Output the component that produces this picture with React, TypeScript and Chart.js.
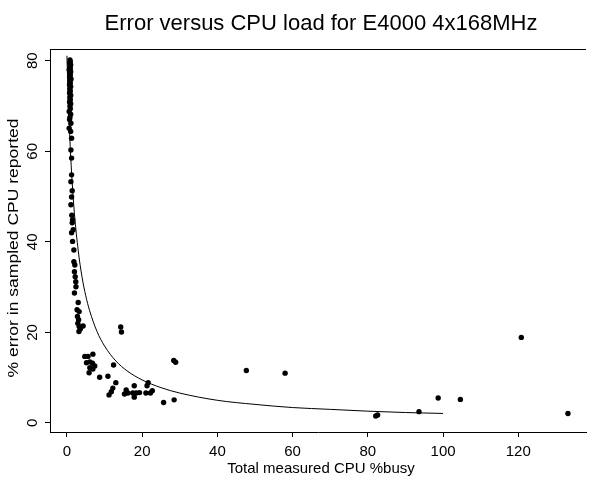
import { useEffect, useRef } from 'react';
import { Chart, registerables } from 'chart.js';

Chart.register(...registerables);

const chartTitle = 'Error versus CPU load for E4000 4x168MHz';
const xTitle = 'Total measured CPU %busy';
const yTitle = '% error in sampled CPU reported';
const xTickValues = [0, 20, 40, 60, 80, 100, 120];
const yTickValues = [0, 20, 40, 60, 80];

// measured samples: total CPU %busy
const busyX = [
  0.8, 0.9, 0.7, 1.0, 0.8, 0.9, 0.6, 1.0, 0.8, 0.9, 0.7, 1.1, 0.8, 0.9, 0.7, 1.0, 0.8, 0.9, 0.7, 1.0,
  0.8, 0.9, 0.7, 1.0, 0.8, 0.9, 0.6, 1.0, 0.8, 0.7,
  1.06, 0.6, 1.0, 1.24, 1.06, 1.24,
  1.24, 1.06, 1.4, 1.24, 1.06, 1.3, 1.5, 1.4, 1.66, 1.24, 1.5, 1.85, 1.85, 2.1, 2.0, 2.2, 2.35, 2.4,
  2.0, 3.0, 2.7, 3.25, 2.8, 3.1, 2.9, 3.25, 4.3, 3.6, 3.2,
  14.3, 14.5,
  4.75, 5.6, 6.9, 5.2, 6.1, 6.8, 7.4, 6.1, 6.9, 5.9, 8.7, 10.9, 12.4, 13.0, 12.2, 11.8, 11.2,
  15.75, 15.3, 16.2, 17.5, 17.9, 18.4, 19.3, 17.9, 21.0, 21.6, 21.3, 22.7, 22.2, 25.7, 28.5, 28.4, 28.9,
  47.7, 58.0, 82.1, 82.6, 93.6, 98.7, 104.6, 120.8, 133.2,
];

// measured samples: % error in sampled CPU
const errorY = [
  80.2, 79.8, 79.5, 79.1, 78.7, 78.3, 78.0, 77.6, 77.2, 76.8, 76.4, 76.0, 75.6, 75.1, 74.7, 74.3, 73.8, 73.3, 72.9, 72.4,
  71.9, 71.4, 70.9, 70.5, 70.0, 69.4, 68.8, 68.2, 67.5, 67.0,
  66.2, 65.1, 64.4, 62.9, 60.3, 58.5,
  54.8, 53.3, 51.3, 49.9, 48.2, 45.9, 44.9, 44.2, 42.7, 42.0, 40.1, 38.2, 35.6, 34.9, 33.4, 32.3, 31.2, 30.1,
  28.7, 26.6, 25.0, 24.6, 23.5, 22.8, 22.0, 21.3, 21.4, 20.8, 20.2,
  21.2, 20.1,
  14.7, 14.7, 15.2, 13.3, 13.5, 13.2, 12.6, 12.2, 11.9, 11.1, 10.1, 10.3, 12.8, 8.9, 7.7, 6.9, 6.2,
  7.3, 6.4, 6.6, 6.6, 8.2, 6.6, 6.7, 5.7, 6.6, 8.9, 8.2, 7.1, 6.6, 4.5, 5.1, 13.8, 13.4,
  11.6, 11.0, 1.55, 1.77, 2.5, 5.5, 5.2, 18.9, 2.1,
];

// fitted curve
const fitX = [0, 0.25, 0.5, 1, 1.5, 2, 3, 4, 5, 6, 8, 10, 13, 16, 20, 25, 30, 40, 50, 60, 70, 80, 90, 100];
const fitY = [81.1, 74.1, 68.3, 58.9, 51.8, 46.2, 38.1, 32.3, 28.1, 24.9, 20.2, 17.0, 13.7, 11.5, 9.5, 7.8, 6.6, 5.0, 4.1, 3.4, 3.0, 2.6, 2.3, 2.1];

const FONT = '"Liberation Sans", Arial, Helvetica, sans-serif';

export default function App() {
  const canvasRef = useRef<HTMLCanvasElement | null>(null);

  useEffect(() => {
    if (!canvasRef.current) return;

    const textPlugin = {
      id: 'textPlugin',
      afterDraw(chart: any) {
        const ctx = chart.ctx as CanvasRenderingContext2D;
        const xs = chart.scales.x;
        const ys = chart.scales.y;
        const area = chart.chartArea;
        ctx.save();
        // top border of the plot box
        ctx.strokeStyle = '#000';
        ctx.lineWidth = 1;
        ctx.beginPath();
        ctx.moveTo(area.left, Math.round(area.top) + 0.5);
        ctx.lineTo(area.right, Math.round(area.top) + 0.5);
        ctx.stroke();

        ctx.fillStyle = '#000';
        ctx.textAlign = 'center';
        ctx.textBaseline = 'middle';
        // title
        ctx.font = `22px ${FONT}`;
        ctx.fillText(chartTitle, 321, 24);
        // x tick labels
        ctx.font = `15px ${FONT}`;
        for (const v of xTickValues) {
          ctx.fillText(String(v), xs.getPixelForValue(v), 452);
        }
        // x title
        ctx.fillText(xTitle, 321, 469);
        // y tick labels (rotated)
        for (const v of yTickValues) {
          ctx.save();
          ctx.translate(33, ys.getPixelForValue(v));
          ctx.rotate(-Math.PI / 2);
          ctx.fillText(String(v), 0, 0);
          ctx.restore();
        }
        // y title (stretched along its length as in the reference)
        ctx.save();
        ctx.font = `15px ${FONT}`;
        const w = ctx.measureText(yTitle).width;
        ctx.translate(13.5, 248);
        ctx.rotate(-Math.PI / 2);
        ctx.scale(259 / w, 1);
        ctx.fillText(yTitle, 0, 0);
        ctx.restore();
        ctx.restore();
      },
    };

    const chart = new Chart(canvasRef.current, {
      type: 'scatter',
      data: {
        datasets: [
          {
            label: 'fit',
            data: fitX.map((x, i) => ({ x, y: fitY[i] })),
            showLine: true,
            borderColor: '#000',
            borderWidth: 1,
            pointRadius: 0,
            cubicInterpolationMode: 'monotone',
            fill: false,
          },
          {
            label: 'samples',
            data: busyX.map((x, i) => ({ x, y: errorY[i] })),
            backgroundColor: '#000',
            borderColor: '#000',
            borderWidth: 0,
            pointRadius: 2.7,
          },
        ],
      },
      options: {
        animation: false,
        responsive: false,
        maintainAspectRatio: false,
        devicePixelRatio: 1,
        layout: { padding: { top: 49, left: 0, right: 0, bottom: 0 } },
        plugins: {
          legend: { display: false },
          tooltip: { enabled: false },
          title: { display: false },
        },
        scales: {
          x: {
            type: 'linear',
            min: -4.5,
            max: 138,
            afterFit: (s: any) => {
              s.height = 45;
            },
            afterBuildTicks: (s: any) => {
              s.ticks = xTickValues.map((v) => ({ value: v }));
            },
            ticks: { display: false, includeBounds: false },
            grid: {
              display: true,
              drawOnChartArea: false,
              drawTicks: true,
              tickLength: 5,
              tickColor: '#000',
              lineWidth: 1,
            },
            border: { display: true, color: '#000', width: 1 },
          },
          y: {
            type: 'linear',
            min: -2.0,
            max: 82.6,
            afterFit: (s: any) => {
              s.width = 50;
            },
            afterBuildTicks: (s: any) => {
              s.ticks = yTickValues.map((v) => ({ value: v }));
            },
            ticks: { display: false, includeBounds: false },
            grid: {
              display: true,
              drawOnChartArea: false,
              drawTicks: true,
              tickLength: 5,
              tickColor: '#000',
              lineWidth: 1,
            },
            border: { display: true, color: '#000', width: 1 },
          },
        },
      },
      plugins: [textPlugin],
    } as any);

    return () => chart.destroy();
  }, []);

  return (
    <div style={{ position: 'fixed', left: 0, top: 0, width: 590, height: 477, background: '#fff' }}>
      <canvas ref={canvasRef} width={590} height={477} style={{ display: 'block', width: 590, height: 477 }} />
    </div>
  );
}
